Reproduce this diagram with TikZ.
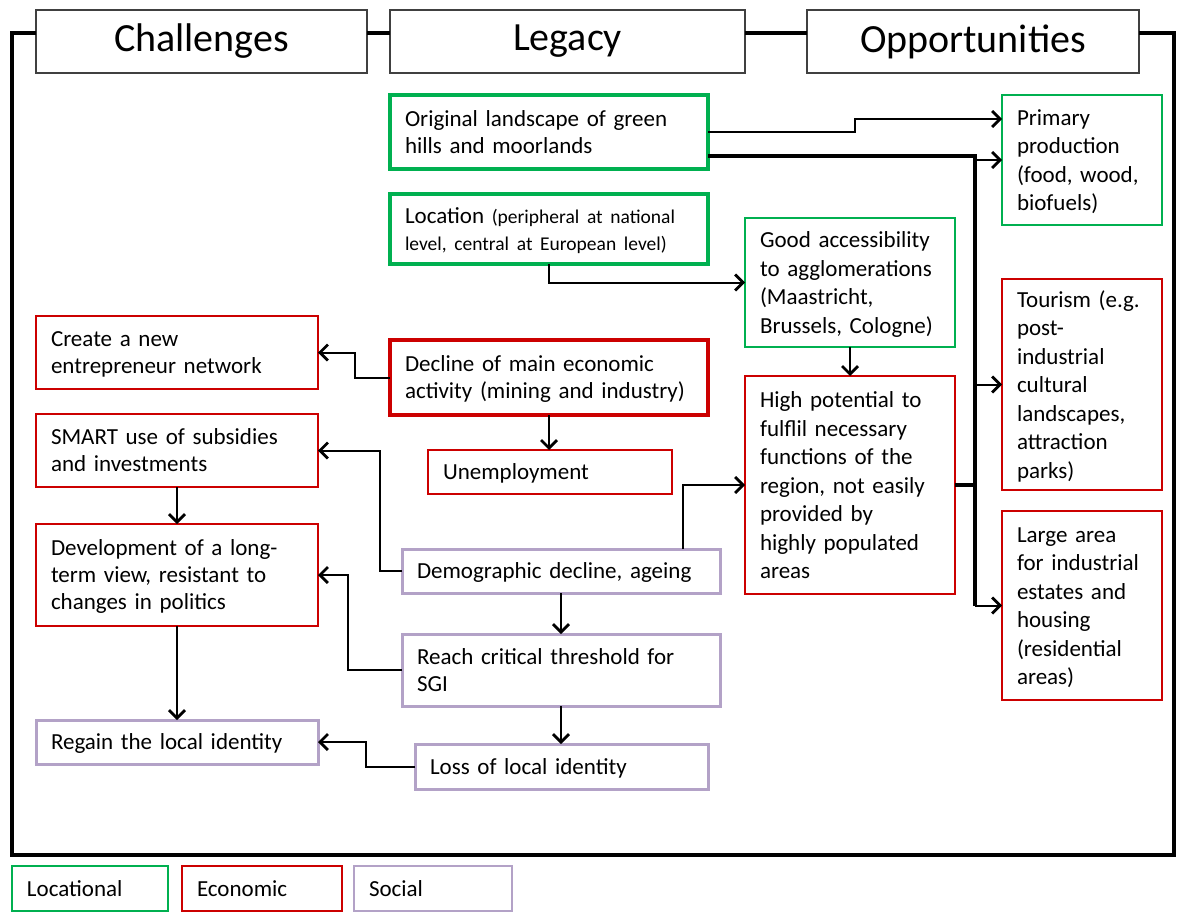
\documentclass[tikz,border=0pt]{standalone}
\usepackage{fontspec}
\setmainfont{Carlito}[WordSpace=0.7]
\usetikzlibrary{arrows.meta}
\definecolor{lgreen}{RGB}{0,176,80}
\definecolor{lred}{RGB}{204,0,0}
\definecolor{lpurple}{RGB}{179,162,199}
\definecolor{hdr}{RGB}{64,64,64}
\newcommand\ls[1]{\raisebox{-2.5pt}[\height][\depth]{\begin{tabular}{@{}l@{}}#1\end{tabular}}}
\newcommand\bx[7]{%
 \pgfmathsetmacro\mybw{#5-#3}\pgfmathsetmacro\mybh{#6-#4}\pgfmathsetmacro\mytw{#5-#3-30}%
 \node[#2, anchor=north west, minimum width=\mybw pt, minimum height=\mybh pt, text width=\mytw pt] (#1) at (#3,#4) {\ls{#7}};}
\begin{document}
\begin{tikzpicture}[x=1pt,y=-1pt,
  box/.style={draw, line width=2.5pt, inner xsep=15pt, inner ysep=0pt, outer sep=0pt, align=left, font=\fontsize{23}{27}\selectfont},
  rbox/.style={box, font=\fontsize{23}{28.5}\selectfont},
  gthick/.style={box, draw=lgreen, line width=4pt},
  gthin/.style={rbox, draw=lgreen},
  rthick/.style={box, draw=lred, line width=4pt},
  rthin/.style={box, draw=lred},
  rthinr/.style={rbox, draw=lred},
  pbox/.style={box, draw=lpurple, line width=3pt},
  lgd/.style={box, font=\fontsize{23}{27}\selectfont},
  hdrbox/.style={draw=hdr, fill=white, line width=1.5pt, outer sep=0pt, anchor=north west, minimum height=63pt, font=\fontsize{40}{46}\selectfont},
  frame/.style={line width=4pt, line join=miter},
  arr/.style={line width=2pt, -{Straight Barb[length=8pt,width=16pt,line width=2.8pt]}},
  bus/.style={line width=3.5pt}
]
\useasboundingbox (0,0) rectangle (1177,913);
\fill[white] (0,0) rectangle (1177,913);

% headers
\node[hdrbox, minimum width=331pt] (chal) at (36,10) {Challenges};
\node[hdrbox, minimum width=355pt] (legacy) at (390,10) {Legacy};
\node[hdrbox, minimum width=332pt] (opp) at (807,10) {Opportunities};

% frame
\draw[frame] ([yshift=8.5pt]chal.west) -- (12,33) -- (12,855) -- (1174,855) -- (1174,33) -- ([yshift=8.5pt]opp.east);
\draw[frame] ([yshift=8.5pt]chal.east) -- ([yshift=8.5pt]legacy.west);
\draw[frame] ([yshift=8.5pt]legacy.east) -- ([yshift=8.5pt]opp.west);

% legacy column
\bx{orig}{gthick}{390}{95}{708}{169}{Original landscape of green\\hills and moorlands}
\bx{loc}{gthick}{390}{194}{708}{264}{Location {\fontsize{19.5}{27}\selectfont (peripheral at national}\\{\fontsize{19.5}{27}\selectfont level, central at European level)}}
\bx{decline}{rthick}{390}{340}{708}{415}{Decline of main economic\\activity (mining and industry)}
\bx{unemp}{rthin}{428}{450}{672}{494}{Unemployment}
\bx{demo}{pbox}{402}{549}{720}{593}{Demographic decline, ageing}
\bx{reach}{pbox}{402}{634}{720}{706}{Reach critical threshold for\\SGI}
\bx{loss}{pbox}{415}{744}{708}{789}{Loss of local identity}

% middle
\bx{good}{gthin}{745}{218}{955}{347}{Good accessibility\\to agglomerations\\(Maastricht,\\Brussels, Cologne)}
\bx{high}{rthinr}{745}{376}{955}{594}{High potential to\\fulflil necessary\\functions of the\\region, not easily\\provided by\\highly populated\\areas}

% opportunities
\bx{primary}{gthin}{1002}{95}{1162}{225}{Primary\\production\\(food, wood,\\biofuels)}
\bx{tourism}{rthinr}{1002}{279}{1162}{490}{Tourism (e.g.\\post-\\industrial\\cultural\\landscapes,\\attraction\\parks)}
\bx{large}{rthinr}{1002}{511}{1162}{700}{Large area\\for industrial\\estates and\\housing\\(residential\\areas)}

% challenges
\bx{create}{rthin}{36}{316}{318}{389}{Create a new\\entrepreneur network}
\bx{smart}{rthin}{36}{414}{318}{487}{SMART use of subsidies\\and investments}
\bx{dev}{rthin}{36}{524}{318}{626}{Development of a long-\\term view, resistant to\\changes in politics}
\bx{regain}{pbox}{36}{720}{318}{764}{Regain the local identity}

% legend
\bx{lgLoc}{lgd, draw=lgreen}{12}{866}{168}{911}{Locational}
\bx{lgEco}{lgd, draw=lred}{182}{866}{342}{911}{Economic}
\bx{lgSoc}{lgd, draw=lpurple}{354}{866}{512}{911}{Social}

% connectors
\coordinate (busTop) at (975,156);
\coordinate (busBot) at (975,606);
\draw[arr] (orig.east) -- (855,132) |- ([yshift=41pt]primary.west);
\draw[bus] ([yshift=-24pt]orig.east) -- (busTop) -- (busBot);
\draw[bus] (high.east) -- (high.east -| busTop);
\draw[arr] (busTop |- primary.west) -- (primary.west);
\draw[arr] (busTop |- tourism.west) -- (tourism.west);
\draw[arr] (busTop |- large.west) -- (large.west);

\draw[arr] (loc.south) |- (good.west);
\draw[arr] (good.south) -- (high.north);
\draw[arr] (decline.west) -- ++(-35,0) |- (create.east);
\draw[arr] (decline.south) -- (decline.south |- unemp.north);
\draw[arr] (demo.west) -- ++(-22,0) |- (smart.east);
\draw[arr] ([xshift=122pt]demo.north) |- (high.west);
\draw[arr] (demo.south) -- (demo.south |- reach.north);
\draw[arr] (reach.west) -- ++(-54,0) |- (dev.east);
\draw[arr] (smart.south) -- (dev.north);
\draw[arr] (dev.south) -- (regain.north);
\draw[arr] (reach.south) -- (reach.south |- loss.north);
\draw[arr] (loss.west) -- ++(-49,0) |- (regain.east);
\end{tikzpicture}
\end{document}
